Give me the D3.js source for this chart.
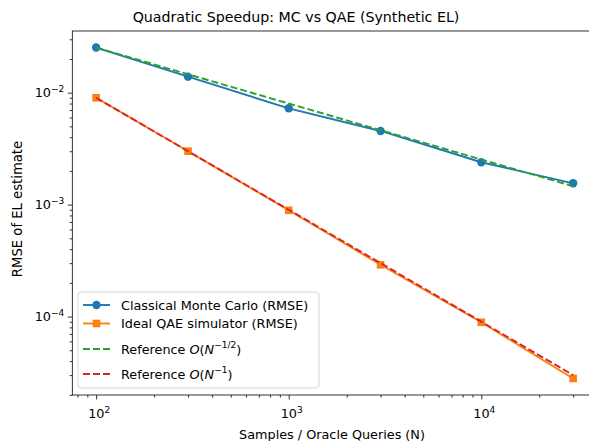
<!DOCTYPE html>
<html><head><meta charset="utf-8">
<script src="https://cdn.jsdelivr.net/npm/d3@7"></script>
<style>body{margin:0;background:#fff}svg{display:block}text{font-family:"DejaVu Sans",sans-serif;fill:#000}</style>
</head><body><svg id="c" width="589" height="441"></svg>
<script>
const N = [100, 300, 1000, 3000, 10000, 30000];
const mcRmse = [0.0253, 0.0139, 0.00725, 0.00455, 0.00239, 0.00155];
const qaeRmse = [0.0090, 0.0030, 0.00089, 0.00029, 0.000089, 0.000028];
const refHalf = [0.0253, 0.0146, 0.0080, 0.00462, 0.00253, 0.00146];
const refOne = [0.0090, 0.0030, 0.00090, 0.00030, 0.000090, 0.000030];
const xMajor = [2, 3, 4];
const yMajor = [-4, -3, -2];
const title = "Quadratic Speedup: MC vs QAE (Synthetic EL)";
const xLabel = "Samples / Oracle Queries (N)";
const yLabel = "RMSE of EL estimate";

const svg = d3.select("#c");
const L = 72.3, R = 597, T = 31, B = 395;

function logDomain(vals){
  const lo = Math.log10(d3.min(vals)), hi = Math.log10(d3.max(vals));
  const m = (hi - lo) * 0.05;
  return [Math.pow(10, lo - m), Math.pow(10, hi + m)];
}
const x = d3.scaleLog().domain(logDomain(N)).range([L, R]);
const y = d3.scaleLog().domain(logDomain([...mcRmse, ...qaeRmse, ...refHalf, ...refOne])).range([B, T]);

svg.append("defs").append("clipPath").attr("id","clip").append("rect")
  .attr("x", L).attr("y", T).attr("width", R - L).attr("height", B - T);

function minors(dom){
  const out = [];
  const a = Math.floor(Math.log10(dom[0])), b = Math.ceil(Math.log10(dom[1]));
  for (let e = a; e <= b; e++) for (let k = 2; k <= 9; k++) {
    const v = k * Math.pow(10, e);
    if (v >= dom[0] && v <= dom[1]) out.push(v);
  }
  return out;
}
const gx = svg.append("g").attr("transform", `translate(0,${B})`);
gx.call(d3.axisBottom(x).tickValues(minors(x.domain())).tickSize(2.6).tickFormat(() => ""));
gx.append("g").call(d3.axisBottom(x).tickValues(xMajor.map(e => Math.pow(10, e))).tickSize(4.5).tickFormat(() => ""));
gx.selectAll(".domain").remove();
gx.selectAll("line").attr("stroke", "#000").attr("stroke-width", 0.8);

const gy = svg.append("g").attr("transform", `translate(${L},0)`);
gy.call(d3.axisLeft(y).tickValues(minors(y.domain())).tickSize(2.6).tickFormat(() => ""));
gy.append("g").call(d3.axisLeft(y).tickValues(yMajor.map(e => Math.pow(10, e))).tickSize(4.5).tickFormat(() => ""));
gy.selectAll(".domain").remove();
gy.selectAll("line").attr("stroke", "#000").attr("stroke-width", 0.8);

xMajor.forEach(e => {
  const t = svg.append("text").attr("x", x(Math.pow(10, e)) + 3).attr("y", 418)
    .attr("text-anchor", "middle").attr("font-size", 12.8);
  t.append("tspan").text("10");
  t.append("tspan").attr("font-size", 9).attr("dy", -5.5).text(String(e));
});
yMajor.forEach(e => {
  const t = svg.append("text").attr("x", L - 8).attr("y", y(Math.pow(10, e)) + 4.5)
    .attr("text-anchor", "end").attr("font-size", 12.8);
  t.append("tspan").text("10");
  t.append("tspan").attr("font-size", 9).attr("dy", -5.5).text("\u2212" + Math.abs(e));
});

svg.append("rect").attr("x", L).attr("y", T).attr("width", R - L).attr("height", B - T)
  .attr("fill", "none").attr("stroke", "#000").attr("stroke-width", 0.8);

const plot = svg.append("g").attr("clip-path", "url(#clip)");
const line = d3.line().x(d => x(d[0])).y(d => y(d[1]));
const zip = arr => N.map((n, i) => [n, arr[i]]);

plot.append("path").datum(zip(mcRmse)).attr("d", line).attr("fill", "none")
  .attr("stroke", "#1f77b4").attr("stroke-width", 1.9);
plot.selectAll(".mc").data(zip(mcRmse)).enter().append("circle")
  .attr("cx", d => x(d[0])).attr("cy", d => y(d[1])).attr("r", 4.2).attr("fill", "#1f77b4");

plot.append("path").datum(zip(qaeRmse)).attr("d", line).attr("fill", "none")
  .attr("stroke", "#ff7f0e").attr("stroke-width", 1.9);
plot.selectAll(".qae").data(zip(qaeRmse)).enter().append("rect")
  .attr("x", d => x(d[0]) - 3.8).attr("y", d => y(d[1]) - 3.8).attr("width", 7.6).attr("height", 7.6)
  .attr("fill", "#ff7f0e");

plot.append("path").datum(zip(refHalf)).attr("d", line).attr("fill", "none")
  .attr("stroke", "#2ca02c").attr("stroke-width", 1.9).attr("stroke-dasharray", "7,3");
plot.append("path").datum(zip(refOne)).attr("d", line).attr("fill", "none")
  .attr("stroke", "#d62728").attr("stroke-width", 1.9).attr("stroke-dasharray", "7,3");

svg.append("text").attr("x", 296).attr("y", 22).attr("text-anchor", "middle")
  .attr("font-size", 14.2).text(title);
svg.append("text").attr("x", 332).attr("y", 439).attr("text-anchor", "middle")
  .attr("font-size", 12.8).text(xLabel);
svg.append("text").attr("transform", "translate(22,209) rotate(-90)").attr("text-anchor", "middle")
  .attr("font-size", 13.2).text(yLabel);

const lg = svg.append("g");
lg.append("rect").attr("x", 78).attr("y", 292).attr("width", 241).attr("height", 96).attr("rx", 3)
  .attr("fill", "#fff").attr("fill-opacity", 0.8).attr("stroke", "#cccccc").attr("stroke-width", 0.8);
const items = [
  {c: "#1f77b4", dash: null, m: "circle", y: 305, label: [["Classical Monte Carlo (RMSE)"]]},
  {c: "#ff7f0e", dash: null, m: "square", y: 323.5, label: [["Ideal QAE simulator (RMSE)"]]},
  {c: "#2ca02c", dash: "7,3", m: null, y: 349, label: [["Reference "], ["O", "i"], ["("], ["N", "i"], ["\u22121/2", "s"], [")"]]},
  {c: "#d62728", dash: "7,3", m: null, y: 374, label: [["Reference "], ["O", "i"], ["("], ["N", "i"], ["\u22121", "s"], [")"]]}
];
items.forEach(it => {
  lg.append("line").attr("x1", 83).attr("x2", 110).attr("y1", it.y).attr("y2", it.y)
    .attr("stroke", it.c).attr("stroke-width", 1.9).attr("stroke-dasharray", it.dash);
  if (it.m === "circle") lg.append("circle").attr("cx", 96.5).attr("cy", it.y).attr("r", 4.2).attr("fill", it.c);
  if (it.m === "square") lg.append("rect").attr("x", 92.7).attr("y", it.y - 3.8).attr("width", 7.6).attr("height", 7.6).attr("fill", it.c);
  const t = lg.append("text").attr("x", 121).attr("y", it.y + 4.5).attr("font-size", 12.8);
  let sup = false;
  it.label.forEach(p => {
    const s = t.append("tspan").text(p[0]);
    if (p[1] === "i") s.attr("font-style", "italic");
    if (p[1] === "s") { s.attr("font-size", 9).attr("dy", -5.5); sup = true; }
    else if (sup) { s.attr("dy", 5.5); sup = false; }
  });
});
</script></body></html>
